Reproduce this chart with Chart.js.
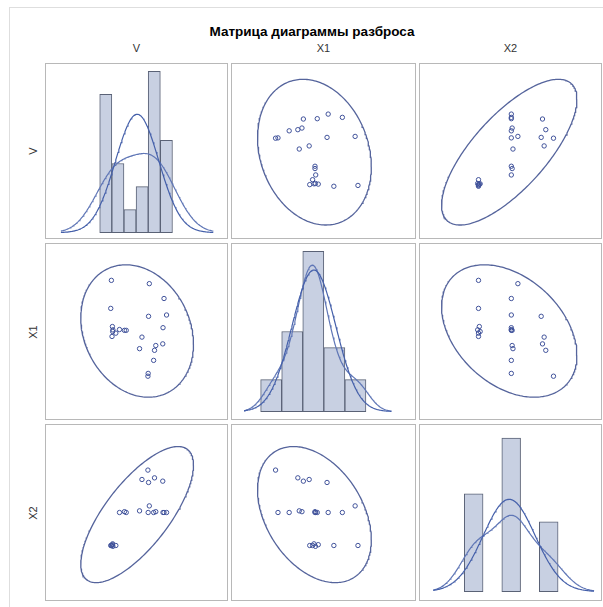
<!DOCTYPE html>
<html>
<head>
<meta charset="utf-8">
<script src="https://cdn.jsdelivr.net/npm/chart.js@4.4.1/dist/chart.umd.min.js"></script>
<style>
  html, body { margin: 0; padding: 0; background: #ffffff; }
  body { width: 603px; height: 607px; overflow: hidden; position: relative; font-family: "Liberation Sans", Arial, sans-serif; }
  #frame { position: absolute; left: 9px; top: 7px; width: 620px; height: 620px; border: 1px solid #dedede; box-sizing: border-box; }
  .panel { position: absolute; border: 1px solid #b8b8b8; box-sizing: border-box; background: #fff; }
  .panel canvas { display: block; }
  #title { position: absolute; left: 0; width: 624px; top: 24px; text-align: center; font-weight: bold; font-size: 13.5px; line-height: 16px; color: #000; white-space: nowrap; }
  .clab { position: absolute; font-size: 11px; color: #333; text-align: center; width: 60px; line-height: 12px; }
  .rlab { position: absolute; font-size: 11px; color: #333; width: 60px; text-align: center; line-height: 12px; transform: rotate(-90deg); transform-origin: center center; }
</style>
</head>
<body>
<div id="frame"></div>
<div id="title"></div>
<script>
// ---------------- data ----------------
const titleText = 'Матрица диаграммы разброса';
const varNames = ['V', 'X1', 'X2'];

const V  = [29, 28.5, 29.8, 30.2, 32.5, 29.5, 30.0, 58, 62.3, 64, 51.2, 69.7, 72.5, 70.5, 58.9, 40.7, 39.3, 35.4, 57.8, 63, 69.5, 53.1, 58.3];
const X1 = [81, 64, 53, 51, 49, 47, 50, 24.6, 32.5, 41.5, 39.6, 52.3, 60, 70, 79, 50.7, 50.7, 51.2, 22.9, 38.6, 42.5, 46.6, 59.2];
const X2 = [30, 30, 30.5, 29.5, 30, 30, 31, 50, 50, 50.5, 51, 50, 50, 50, 54, 50, 50.5, 50, 75.7, 71, 69, 70, 68.2];

// histogram bins for V, X1, X2
const binStart = [21.4, 14.8, 22.9];
const binWidth = [9.03, 14.04, 10.8];
const binCount = [6, 5, 5];

// range over which the density curves are drawn, and kernel bandwidth (as share of SD)
const curveFrom = [-7.5, 3.7, 5];
const curveTo   = [106, 102, 97.6];
const kernelBandwidthFactor = [0.9, 0.55, 0.65];

// axis ranges
const colMin = [-18.6, -4.3, -2.6];
const colMax = [116.2, 117.7, 101.6];
const rowMin = [0, 0, 0];
const rowMax = [100, 100, 100];
const diagYMin = [-1.0, -2.0, -2.6];
const diagYMax = [31.8, 45.5, 51.9];

// ---------------- layout ----------------
const colLeft = [45, 231, 419];
const colW = [183, 185, 183];
const rowTop = [63, 243, 424];
const rowH = [176, 177, 177];

const markerColor = '#40529a';
const ellipseColor = '#55649c';
const barFill = '#c8d0e2';
const barLine = '#5a6276';
const normalColor = '#4560aa';
const kernelColor = '#5f76b6';

// ---------------- helpers ----------------
const vars = [V, X1, X2];
const n = V.length;
function mean(a) { return a.reduce((s, v) => s + v, 0) / a.length; }
function sd(a) { const m = mean(a); return Math.sqrt(a.reduce((s, v) => s + (v - m) * (v - m), 0) / (a.length - 1)); }
function cov(a, b) { const ma = mean(a), mb = mean(b); let s = 0; for (let i = 0; i < a.length; i++) s += (a[i] - ma) * (b[i] - mb); return s / (a.length - 1); }

function ellipsePoints(xs, ys) {
  const mx = mean(xs), my = mean(ys);
  const sxx = cov(xs, xs), syy = cov(ys, ys), sxy = cov(xs, ys);
  const d2 = n - 2;
  const F = d2 / 2 * (Math.pow(0.05, -2 / d2) - 1); // F(0.95; 2, n-2)
  const c = Math.sqrt(2 * (n - 1) * (n + 1) / (n * (n - 2)) * F);
  const l11 = Math.sqrt(sxx), l21 = sxy / l11, l22 = Math.sqrt(syy - l21 * l21);
  const pts = [];
  for (let k = 0; k <= 240; k++) {
    const t = 2 * Math.PI * k / 240;
    const u = Math.cos(t), v = Math.sin(t);
    pts.push({ x: mx + c * l11 * u, y: my + c * (l21 * u + l22 * v) });
  }
  return pts;
}

function histData(j) {
  const a = vars[j];
  const out = [];
  for (let b = 0; b < binCount[j]; b++) {
    const lo = binStart[j] + b * binWidth[j], hi = lo + binWidth[j];
    const cnt = a.filter(v => v >= lo && v < hi).length;
    out.push({ x: lo + binWidth[j] / 2, y: 100 * cnt / n });
  }
  return out;
}

function normalCurve(j) {
  const a = vars[j], m = mean(a), s = sd(a), w = binWidth[j];
  const pts = [];
  for (let k = 0; k <= 200; k++) {
    const x = curveFrom[j] + (curveTo[j] - curveFrom[j]) * k / 200;
    const z = (x - m) / s;
    pts.push({ x, y: 100 * w * Math.exp(-0.5 * z * z) / (s * Math.sqrt(2 * Math.PI)) });
  }
  return pts;
}

function kernelCurve(j) {
  const a = vars[j], h = kernelBandwidthFactor[j] * sd(a), w = binWidth[j];
  const pts = [];
  for (let k = 0; k <= 200; k++) {
    const x = curveFrom[j] + (curveTo[j] - curveFrom[j]) * k / 200;
    let s = 0;
    for (const v of a) { const z = (x - v) / h; s += Math.exp(-0.5 * z * z) / Math.sqrt(2 * Math.PI); }
    pts.push({ x, y: 100 * w * s / (n * h) });
  }
  return pts;
}

function makeCanvas(r, c) {
  const div = document.createElement('div');
  div.className = 'panel';
  div.style.left = colLeft[c] + 'px';
  div.style.top = rowTop[r] + 'px';
  div.style.width = colW[c] + 'px';
  div.style.height = rowH[r] + 'px';
  const cv = document.createElement('canvas');
  cv.width = colW[c] - 2; cv.height = rowH[r] - 2;
  cv.style.width = (colW[c] - 2) + 'px'; cv.style.height = (rowH[r] - 2) + 'px';
  div.appendChild(cv);
  document.body.appendChild(div);
  return cv;
}

const baseOptions = (xmin, xmax, ymin, ymax) => ({
  responsive: false,
  animation: false,
  devicePixelRatio: 1,
  layout: { padding: 0 },
  plugins: { legend: { display: false }, tooltip: { enabled: false }, title: { display: false } },
  scales: {
    x: { type: 'linear', min: xmin, max: xmax, display: false, offset: false, grid: { offset: false } },
    y: { type: 'linear', min: ymin, max: ymax, display: false }
  }
});

for (let r = 0; r < 3; r++) {
  for (let c = 0; c < 3; c++) {
    const cv = makeCanvas(r, c);
    if (r === c) {
      new Chart(cv, {
        type: 'bar',
        data: {
          datasets: [
            { type: 'line', data: normalCurve(c), borderColor: normalColor, borderWidth: 1.2, pointRadius: 0, fill: false, tension: 0, order: 1 },
            { type: 'line', data: kernelCurve(c), borderColor: kernelColor, borderWidth: 1.2, pointRadius: 0, fill: false, tension: 0, order: 1 },
            { type: 'bar', data: histData(c), backgroundColor: barFill, borderColor: barLine, borderWidth: 1, borderSkipped: false, barPercentage: 1, categoryPercentage: 1, order: 2 }
          ]
        },
        options: baseOptions(colMin[c], colMax[c], diagYMin[c], diagYMax[c])
      });
    } else {
      const xs = vars[c], ys = vars[r];
      new Chart(cv, {
        type: 'scatter',
        data: {
          datasets: [
            { data: xs.map((x, i) => ({ x, y: ys[i] })), pointStyle: 'circle', pointRadius: 2.2, borderWidth: 1, borderColor: markerColor, backgroundColor: 'rgba(0,0,0,0)' },
            { data: ellipsePoints(xs, ys), showLine: true, borderColor: ellipseColor, borderWidth: 1.3, pointRadius: 0, fill: false, tension: 0 }
          ]
        },
        options: baseOptions(colMin[c], colMax[c], rowMin[r], rowMax[r])
      });
    }
  }
}

// ---------------- texts ----------------
document.getElementById('title').textContent = titleText;
for (let c = 0; c < 3; c++) {
  const d = document.createElement('div');
  d.className = 'clab';
  d.textContent = varNames[c];
  d.style.left = (colLeft[c] + colW[c] / 2 - 30) + 'px';
  d.style.top = '42px';
  document.body.appendChild(d);
}
for (let r = 0; r < 3; r++) {
  const d = document.createElement('div');
  d.className = 'rlab';
  d.textContent = varNames[r];
  d.style.left = (33 - 30) + 'px';
  d.style.top = (rowTop[r] + rowH[r] / 2 - 6) + 'px';
  document.body.appendChild(d);
}
</script>
</body>
</html>
